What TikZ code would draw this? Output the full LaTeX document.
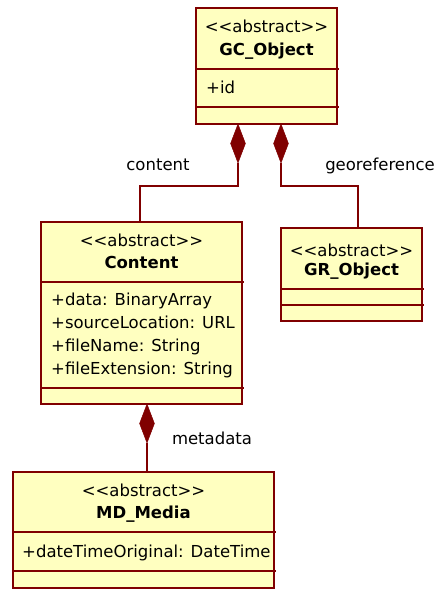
\documentclass[tikz,border=0pt]{standalone}
\usepackage{fontspec}
\setmainfont{DejaVu Sans}
\usetikzlibrary{shapes.geometric}
\definecolor{umlfill}{HTML}{FFFFC0}
\definecolor{umlline}{HTML}{800000}
\newcommand{\stereo}[1]{<{}<#1>{}>}
\tikzset{
  classbox/.style={draw=umlline, fill=umlfill, line width=2pt, rectangle, inner sep=0pt},
  sep/.style={draw=umlline, line width=2pt},
  txt/.style={inner sep=0pt, text height=12pt, text depth=3.5pt, font=\fontsize{16.5}{20}\selectfont},
  bold/.style={txt, font=\fontsize{16.5}{20}\selectfont\bfseries},
  attr/.style={txt, anchor=west},
  comp/.style={draw=umlline, fill=umlline, diamond, inner sep=0pt, minimum width=15pt, minimum height=39pt, line width=0.5pt},
  link/.style={draw=umlline, line width=2pt},
}
\begin{document}
\begin{tikzpicture}[x=1pt, y=-1pt]
\useasboundingbox (0,0) rectangle (440,589);
% GC_Object
\node[classbox, minimum width=141pt, minimum height=116pt] (gc) at (266.5,66) {};
\node[txt] (gcst) at (266.5,28) {\stereo{abstract}};
\node[bold] (gcnm) at (266.5,51) {GC\_Object};
\draw[sep] (196,69) -- (339,69);
\draw[sep] (196,107) -- (339,107);
\node[attr] (gcid) at (206,89) {+id};
% Content
\node[classbox, minimum width=201pt, minimum height=182pt] (ct) at (141.5,313) {};
\node[txt] (ctst) at (141.5,242) {\stereo{abstract}};
\node[bold] (ctnm) at (141.5,264) {Content};
\draw[sep] (41,282) -- (244,282);
\draw[sep] (41,388) -- (244,388);
\node[attr] (ca1) at (51,301) {+data: BinaryArray};
\node[attr] (ca2) at (51,324) {+sourceLocation: URL};
\node[attr] (ca3) at (51,347) {+fileName: String};
\node[attr] (ca4) at (51,370) {+fileExtension: String};
% GR_Object
\node[classbox, minimum width=141pt, minimum height=93pt] (gr) at (351.5,274.5) {};
\node[txt] (grst) at (351.5,252) {\stereo{abstract}};
\node[bold] (grnm) at (351.5,271) {GR\_Object};
\draw[sep] (281,289) -- (424,289);
\draw[sep] (281,305) -- (424,305);
% MD_Media
\node[classbox, minimum width=261pt, minimum height=116pt] (md) at (143.5,530) {};
\node[txt] (mdst) at (143.5,492) {\stereo{abstract}};
\node[bold] (mdnm) at (143.5,514) {MD\_Media};
\draw[sep] (13,532) -- (276,532);
\draw[sep] (13,571) -- (276,571);
\node[attr] (mda) at (22,553) {+dateTimeOriginal: DateTime};
% composition diamonds
\node[comp] (dA) at (238,143.5) {};
\node[comp] (dB) at (281,143.5) {};
\node[comp] (dC) at (147,423.5) {};
% connectors
\draw[link] (dA.south) -- ++(0,23) -| ([xshift=-1.5pt]ct.north);
\draw[link] (dB.south) -- ++(0,23) -| ([xshift=6.5pt]gr.north);
\draw[link] (dC.south) -- (dC.south |- md.north);
% role names
\node[txt] (lcontent) at (158,166) {content};
\node[txt] (lgeo) at (380,166) {georeference};
\node[txt] (lmeta) at (212,440) {metadata};
\end{tikzpicture}
\end{document}
